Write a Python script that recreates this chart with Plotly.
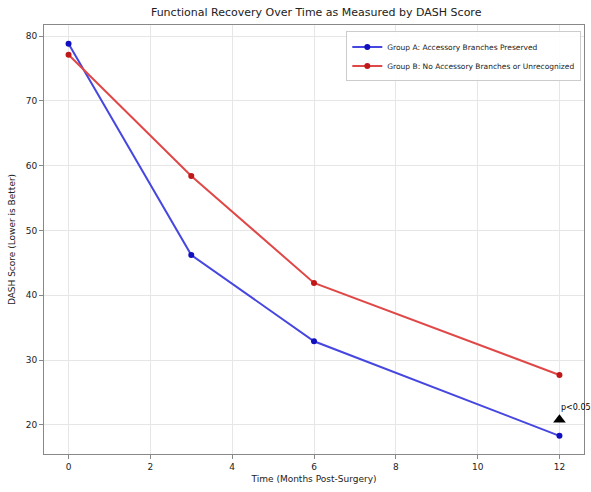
import plotly.graph_objects as go

months = [0, 3, 6, 12]
group_a = [78.8, 46.2, 32.9, 18.3]
group_b = [77.1, 58.4, 41.9, 27.7]
name_a = "Group A: Accessory Branches Preserved"
name_b = "Group B: No Accessory Branches or Unrecognized"
sig_x = [12]
sig_y = [20.8]
sig_label = "p<0.05"
x_ticks = [0, 2, 4, 6, 8, 10, 12]
y_ticks = [20, 30, 40, 50, 60, 70, 80]

fig = go.Figure()
fig.add_trace(go.Scatter(
    x=months, y=group_a, mode="lines+markers", name=name_a,
    line=dict(color="#4646e0", width=2),
    marker=dict(color="#1010c0", size=6),
))
fig.add_trace(go.Scatter(
    x=months, y=group_b, mode="lines+markers", name=name_b,
    line=dict(color="#e04848", width=2),
    marker=dict(color="#c01818", size=6),
))
fig.add_trace(go.Scatter(
    x=sig_x, y=sig_y, mode="markers", showlegend=False,
    marker=dict(symbol="triangle-up", color="black", size=11),
    hoverinfo="skip",
))
fig.add_annotation(
    x=sig_x[0], y=sig_y[0] + 1.8, text=sig_label, showarrow=False,
    xanchor="left", yanchor="middle", xshift=0,
    font=dict(size=8, color="black"),
)

axis_common = dict(
    showline=True, linecolor="#888888", linewidth=1, mirror=True,
    ticks="outside", ticklen=4, tickcolor="#888888",
    showgrid=True, gridcolor="#e6e6e6", gridwidth=1,
    zeroline=False, tickfont=dict(size=9, color="#222222"),
)

fig.update_layout(
    width=591, height=492,
    margin=dict(l=44, r=7, t=25, b=38),
    paper_bgcolor="white", plot_bgcolor="white",
    font=dict(family="DejaVu Sans", color="#222222"),
    title=dict(text="Functional Recovery Over Time as Measured by DASH Score",
               x=0.535, xanchor="center", y=0.975, yanchor="middle",
               font=dict(size=11)),
    xaxis=dict(range=[-0.6, 12.6], tickvals=x_ticks,
               title=dict(text="Time (Months Post-Surgery)", font=dict(size=9), standoff=4),
               **axis_common),
    yaxis=dict(range=[15.5, 81.7], tickvals=y_ticks,
               title=dict(text="DASH Score (Lower is Better)", font=dict(size=9), standoff=8),
               **axis_common),
    legend=dict(x=0.995, y=0.985, xanchor="right", yanchor="top",
                bgcolor="rgba(255,255,255,0.9)", bordercolor="#cccccc", borderwidth=1,
                font=dict(size=7.5), tracegroupgap=0, itemwidth=30),
    showlegend=True,
)

fig.write_html("out.html", config={"displayModeBar": False},
               post_script="document.body.style.margin='0';")
